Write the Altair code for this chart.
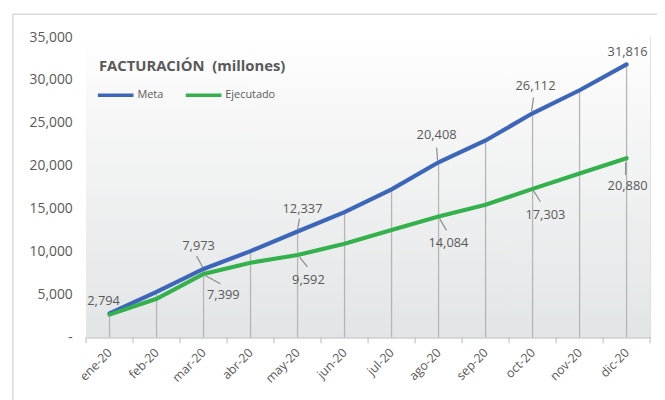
import altair as alt
import pandas as pd
import numpy as np

# ---- data ----
months = ["ene-20", "feb-20", "mar-20", "abr-20", "may-20", "jun-20",
          "jul-20", "ago-20", "sep-20", "oct-20", "nov-20", "dic-20"]
meta = [2794, 5300, 7973, 10050, 12337, 14600, 17250, 20408, 22950, 26112, 28800, 31816]
ejecutado = [2650, 4500, 7399, 8700, 9592, 10900, 12500, 14084, 15450, 17303, 19100, 20880]
series_names = ["Meta", "Ejecutado"]
series_colors = ["#3d66b9", "#34b04c"]
y_ticks = [0, 5000, 10000, 15000, 20000, 25000, 30000, 35000]

# labelled points: (series, month index, value shown)
labelled = [
    ("Meta", 0, 2794), ("Meta", 2, 7973), ("Ejecutado", 2, 7399),
    ("Meta", 4, 12337), ("Ejecutado", 4, 9592), ("Meta", 7, 20408),
    ("Ejecutado", 7, 14084), ("Meta", 9, 26112), ("Ejecutado", 9, 17303),
    ("Meta", 11, 31816), ("Ejecutado", 11, 20880),
]

# ---- layout (styling) ----
W, H = 571, 304
YMAX = 35000
XU = W / 12.0          # px per month
YU = H / YMAX          # px per unit value
GRAY = "#595959"
FONT = "Open Sans"

# label placement offsets in px: text (dx, dy), leader (x1, y1, x2, y2) relative to point
placement = {
    ("Meta", 0): ((-6, -12), None),
    ("Meta", 2): ((-5, -23), (-7, -13, -1, -2)),
    ("Ejecutado", 2): ((20, 21), (2, 2, 17, 10)),
    ("Meta", 4): ((5, -23), (2, -13, 0, -2)),
    ("Ejecutado", 4): ((11, 25), (2, 2, 10, 12)),
    ("Meta", 7): ((-2, -28), (-2, -15, -1, -2)),
    ("Ejecutado", 7): ((10, 27), (1, 2, 8, 14)),
    ("Meta", 9): ((3, -28), (1, -16, -1, -2)),
    ("Ejecutado", 9): ((13, 26), (1, 2, 8, 13)),
    ("Meta", 11): ((1, -12), None),
    ("Ejecutado", 11): ((1, 28), (-1, 4, -1, 17)),
}

idx = list(range(len(months)))
wide = pd.DataFrame({"i": idx, "mes": months, "Meta": meta, "Ejecutado": ejecutado, "cero": 0})
long = pd.concat([
    pd.DataFrame({"i": idx, "mes": months, "valor": meta, "serie": "Meta", "orden": 0}),
    pd.DataFrame({"i": idx, "mes": months, "valor": ejecutado, "serie": "Ejecutado", "orden": 1}),
])

lab_rows, lead_rows = [], []
for s, i, v in labelled:
    (tdx, tdy), lead = placement[(s, i)]
    lab_rows.append({"x": i + tdx / XU, "y": v - tdy / YU, "txt": f"{v:,}"})
    if lead:
        x1, y1, x2, y2 = lead
        lead_rows.append({"x": i + x1 / XU, "y": v - y1 / YU, "x2": i + x2 / XU, "y2": v - y2 / YU})
labs = pd.DataFrame(lab_rows)
leads = pd.DataFrame(lead_rows)
edges = pd.DataFrame({"e": np.arange(-0.5, 12.0, 1.0)})

label_expr = "[" + ",".join(f"'{m}'" for m in months) + "][datum.value]"

xscale = alt.Scale(domain=[-0.5, 11.5], nice=False, zero=False)
yscale = alt.Scale(domain=[0, YMAX], nice=False)

one = pd.DataFrame({"a": [0]})

bg = alt.Chart(one).mark_rect(
    color=alt.LinearGradient(
        gradient="linear",
        stops=[alt.GradientStop(color="#ffffff", offset=0),
               alt.GradientStop(color="#f8f8f8", offset=0.22),
               alt.GradientStop(color="#e2e5e6", offset=1)],
        x1=0, x2=0, y1=0, y2=1)
).encode(x=alt.value(0), x2=alt.value(W), y=alt.value(0), y2=alt.value(H))

border_top = alt.Chart(one).mark_rule(color="#d9d9d9", strokeWidth=1.5).encode(
    x=alt.value(-74), x2=alt.value(W + 20), y=alt.value(-23))
border_left = alt.Chart(one).mark_rule(color="#d9d9d9", strokeWidth=1.5).encode(
    x=alt.value(-74), y=alt.value(-23), y2=alt.value(H + 80))

drops = alt.Chart(wide).mark_rule(color="#b5b5b5", strokeWidth=1.3).encode(
    x=alt.X("i:Q", scale=xscale,
            axis=alt.Axis(values=idx, labelExpr=label_expr, labelAngle=-45, labelAlign="right",
                          labelBaseline="middle", ticks=False, grid=False, domainColor="#c4c4c4",
                          domainWidth=1.2, labelColor=GRAY, labelFontSize=12.5, labelFont=FONT,
                          labelPadding=13, title=None)),
    y=alt.Y("Meta:Q", scale=yscale,
            axis=alt.Axis(values=y_ticks, grid=False, ticks=False, domain=False,
                          labelExpr="datum.value == 0 ? '-' : format(datum.value, ',')",
                          labelColor=GRAY, labelFontSize=14, labelFont=FONT, labelPadding=14,
                          title=None)),
    y2="cero:Q",
)

ticks = alt.Chart(edges).mark_rule(color="#c4c4c4", strokeWidth=1.2).encode(
    x=alt.X("e:Q", scale=xscale), y=alt.value(H), y2=alt.value(H + 6))

lines = alt.Chart(long).mark_line(strokeWidth=4.2, strokeCap="round").encode(
    x=alt.X("i:Q", scale=xscale),
    y=alt.Y("valor:Q", scale=yscale),
    color=alt.Color("serie:N",
                    scale=alt.Scale(domain=series_names, range=series_colors),
                    legend=alt.Legend(orient="none", legendX=10, legendY=39, direction="horizontal",
                                      title=None, symbolType="stroke", symbolStrokeWidth=3.5,
                                      symbolSize=1300, labelFontSize=11, labelColor=GRAY,
                                      labelFont=FONT, labelOffset=2, columnPadding=14)),
    detail="serie:N",
    order="i:Q",
)

leaders = alt.Chart(leads).mark_rule(color="#8c8c8c", strokeWidth=1.2).encode(
    x=alt.X("x:Q", scale=xscale), x2="x2:Q",
    y=alt.Y("y:Q", scale=yscale), y2="y2:Q")

texts = alt.Chart(labs).mark_text(color=GRAY, fontSize=13, font=FONT,
                                  align="center", baseline="middle").encode(
    x=alt.X("x:Q", scale=xscale), y=alt.Y("y:Q", scale=yscale), text="txt:N")

title = alt.Chart(one).mark_text(text="FACTURACIÓN\u00a0 (millones)", color=GRAY, fontSize=15,
                                 fontWeight="bold", font=FONT, align="left",
                                 baseline="middle").encode(x=alt.value(13), y=alt.value(29))

chart = alt.layer(
    bg, border_top, border_left, drops, ticks, lines, leaders, texts, title
).properties(
    width=W, height=H,
    autosize=alt.AutoSizeParams(type="none"),
    padding={"left": 79, "top": 27, "right": 7, "bottom": 61},
).configure_view(stroke=None).configure(background="white")

chart.save("out.html", embed_options={"renderer": "svg", "actions": False})
